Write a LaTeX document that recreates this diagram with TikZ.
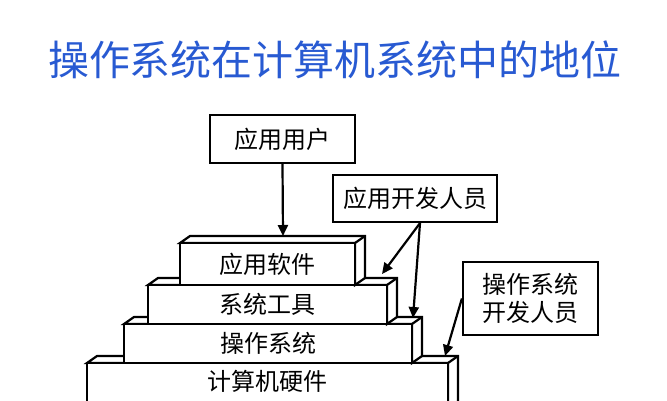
\documentclass[tikz,border=0pt]{standalone}
\usepackage{fontspec}
\setmainfont{Noto Sans CJK SC}
\usetikzlibrary{arrows.meta,positioning}
\definecolor{titleblue}{RGB}{40,90,210}

\begin{document}
\begin{tikzpicture}[
  x=1pt, y=-1pt,
  every node/.style={font=\fontsize{24}{28}\selectfont},
  label box/.style={draw=black, line width=2.2pt, fill=white, align=center, inner sep=0pt},
  layer/.style={draw=black, line width=2.2pt, fill=white, line join=miter},
  arr/.style={-{Triangle[length=11pt,width=10pt]}, line width=2.2pt}
]
\useasboundingbox (0,0) rectangle (667,400);

% Title
\node[font=\fontsize{41}{45}\selectfont, text=titleblue] (title) at (335,60) {操作系统在计算机系统中的地位};

% Layers, bottom first
\foreach \xl/\xr/\yt/\yb/\txt/\nm in {87/448/363/410/计算机硬件/hw, 124/412/324/363/操作系统/os, 148/387/285/324/系统工具/tools, 180/355/243/285/应用软件/app}{
  \draw[layer] (\xl,\yt) -- ++(10,-7) -- (\xr+10,\yt-7) -- (\xr+10,\yb-7) -- (\xr,\yb) -- (\xr,\yt) -- cycle;
  \draw[layer] (\xl,\yt) rectangle (\xr,\yb);
  \draw[layer] (\xr,\yt) -- (\xr+10,\yt-7);
  \node (\nm) at ({(\xl+\xr)/2},{(\yt+min(\yb,400))/2}) {\txt};
}

% Users and developers
\node[label box, minimum width=145pt, minimum height=48pt] (user) at (282.5,139) {应用用户};
\node[label box, minimum width=164pt, minimum height=47pt] (appdev) at (415,198.5) {应用开发人员};
\node[label box, minimum width=135pt, minimum height=73pt] (osdev) at (530.5,298.5) {操作系统\\开发人员};

\coordinate (apptop) at (283,236);
\coordinate (toolstop) at (382,274);
\coordinate (ostop) at (413,318);
\coordinate (hwtop) at (445,356);

\draw[arr] (user.south) -- (apptop);
\draw[arr] ([xshift=5pt]appdev.south) -- (toolstop);
\draw[arr] ([xshift=5pt]appdev.south) -- (ostop);
\draw[arr] (osdev.west) -- (hwtop);
\end{tikzpicture}
\end{document}
